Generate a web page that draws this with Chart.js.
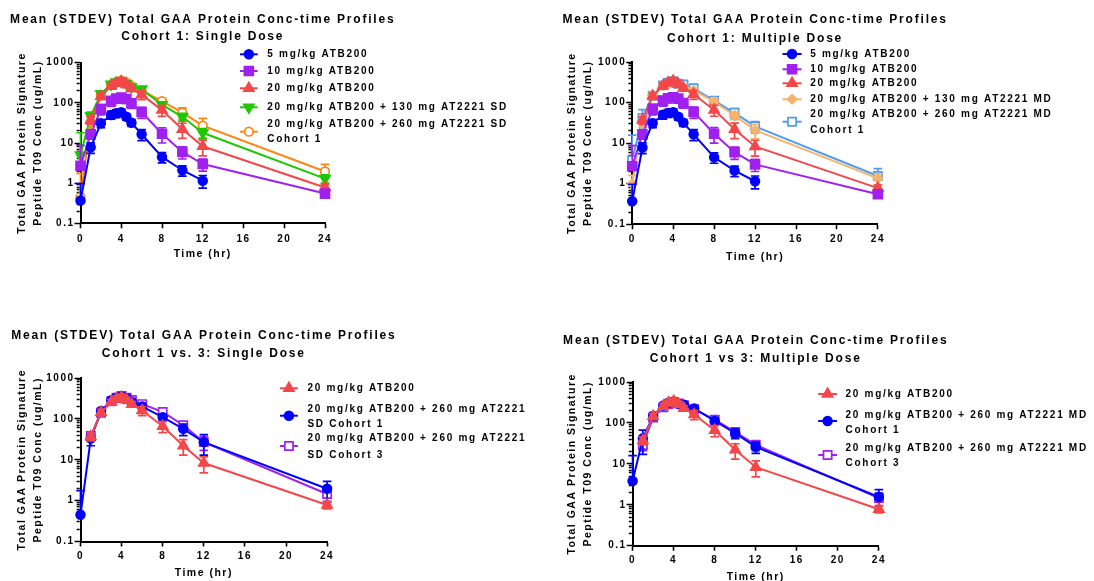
<!DOCTYPE html>
<html>
<head>
<meta charset="utf-8">
<script src="https://cdn.jsdelivr.net/npm/chart.js@4.4.1/dist/chart.umd.min.js"></script>
<style>
  html, body { margin: 0; padding: 0; background: #ffffff; }
  body { width: 1094px; height: 581px; position: relative; overflow: hidden; }
  canvas { position: absolute; }
</style>
</head>
<body>
<canvas id="c1" width="547" height="290" style="left:0;top:0"></canvas>
<canvas id="c2" width="547" height="290" style="left:547px;top:0"></canvas>
<canvas id="c3" width="547" height="291" style="left:0;top:290px"></canvas>
<canvas id="c4" width="547" height="291" style="left:547px;top:290px"></canvas>
<script>
// Sampling times (hr)
const hours = [0, 1, 2, 3, 3.5, 4, 4.5, 5, 6, 8, 10, 12, 24];

// Labelled decades on the concentration axis
const yDecades = [0.1, 1, 10, 100, 1000];
const xTickStep = 4;

// Mean and SD concentrations (ug/mL)
const atb5      = [0.37, 7.8, 31, 50, 55, 58, 45, 32, 16.5, 4.5, 2.1, 1.15, null];
const atb5Sd    = [0.6, 2.3, 7, 11, 12, 12, 8, 6, 5, 1.3, 0.6, 0.4, null];
const atb10     = [2.7, 16.5, 70, 112, 128, 135, 125, 98, 59, 17, 6.0, 3.0, 0.55];
const atb10Sd   = [6, 4, 20, 30, 30, 30, 28, 25, 18, 7, 2, 1, 0.1];
const atb20     = [null, 37, 145, 258, 310, 340, 288, 228, 160, 66, 22, 8.3, 0.78];
const atb20Sd   = [null, 8, 25, 40, 50, 60, 50, 35, 40, 20, 9, 3.5, 0.15];
const sd130     = [5, 47, 168, 290, 330, 358, 305, 248, 220, 90, 45, 18, 1.3];
const sd130Sd   = [13, 12, 25, 40, 45, 50, 40, 35, 25, 15, 10, 5, 0.3];
const sd260C1   = [0.45, 33, 155, 285, 330, 355, 320, 260, 200, 110, 57, 27, 1.95];
const sd260C1Sd = [1.3, 11, 25, 40, 45, 50, 45, 40, 35, 20, 18, 14, 1.0];
const sd260C3   = [null, 38, 140, 270, 330, 365, 330, 290, 230, 148, 70, 27, 1.45];
const sd260C3Sd = [null, 8, 20, 40, 40, 40, 40, 35, 30, 20, 12, 10, 0.5];
const md130     = [1.0, 35, 150, 260, 300, 320, 290, 240, 200, 105, 48, 21, 1.35];
const md130Sd   = [0.6, 10, 30, 40, 40, 45, 40, 35, 30, 20, 10, 8, 0.4];
const md260C1   = [3.8, 42, 148, 265, 310, 335, 290, 280, 225, 112, 56, 26, 1.55];
const md260C1Sd = [12, 25, 30, 40, 45, 45, 40, 35, 30, 22, 15, 8, 0.8];
const md260C3   = [null, 29, 135, 240, 290, 320, 300, 270, 215, 120, 60, 29, 1.45];
const md260C3Sd = [null, 8, 25, 30, 35, 40, 35, 30, 25, 20, 15, 8, 0.5];

const FONT = "'Liberation Sans', Arial, sans-serif";

// Marker / line looks
const STYLES = {
  blue:    { color: '#0000ff', fill: '#0000ff', pointStyle: 'circle',   radius: 4.4 },
  purple:  { color: '#a020f0', fill: '#a020f0', pointStyle: 'rect',     radius: 6.3 },
  red:     { color: '#f4474a', fill: '#f4474a', pointStyle: 'triangle', radius: 5.8 },
  green:   { color: '#1ec800', fill: '#1ec800', pointStyle: 'triangle', radius: 5.8, rotation: 180 },
  orange:  { color: '#ff8410', fill: '#ffffff', pointStyle: 'circle',   radius: 4.3 },
  sand:    { color: '#f5b36d', fill: '#f5b36d', pointStyle: 'rectRot',  radius: 4.6 },
  sky:     { color: '#4f9cf0', fill: '#ffffff', pointStyle: 'rect',     radius: 5.8 },
  purpleO: { color: '#a020f0', fill: '#ffffff', pointStyle: 'rect',     radius: 5.8 }
};

function series(lines, values, sd, look) {
  const s = STYLES[look];
  return {
    label: lines.join(' '),
    legendLines: lines,
    data: hours.map((h, i) => ({ x: h, y: values[i] })),
    sd: sd,
    borderColor: s.color,
    backgroundColor: s.fill,
    pointBackgroundColor: s.fill,
    pointBorderColor: s.color,
    pointStyle: s.pointStyle,
    pointRadius: s.radius,
    pointHoverRadius: s.radius,
    pointRotation: s.rotation || 0,
    pointBorderWidth: 1.7,
    borderWidth: 2,
    tension: 0,
    clip: false
  };
}

// Tick positions for the log axis: 1..9 in each decade
const yTickValues = [];
for (let e = -1; e <= 2; e++) {
  for (let k = 1; k <= 9; k++) yTickValues.push(Number((k * Math.pow(10, e)).toPrecision(4)));
}
yTickValues.push(1000);
const isDecade = v => yDecades.some(d => Math.abs(d - v) < 1e-9);

// Mean +/- SD whiskers, drawn under each series' own line and markers
const errorBars = {
  id: 'errorBars',
  beforeDatasetDraw(chart, args) {
    const ds = chart.data.datasets[args.index];
    if (!ds.sd) return;
    const yScale = chart.scales.y;
    const ctx = chart.ctx;
    ctx.save();
    ctx.strokeStyle = ds.borderColor;
    ctx.lineWidth = 1.7;
    const cap = 4.3;
    args.meta.data.forEach((pt, i) => {
      const v = ds.data[i].y, s = ds.sd[i];
      if (v == null || s == null || pt.skip) return;
      const x = pt.x;
      const yHi = yScale.getPixelForValue(v + s);
      const yMid = yScale.getPixelForValue(v);
      ctx.beginPath();
      ctx.moveTo(x, yMid); ctx.lineTo(x, yHi);
      ctx.moveTo(x - cap, yHi); ctx.lineTo(x + cap, yHi);
      if (v - s > 0) {
        const yLo = yScale.getPixelForValue(v - s);
        ctx.moveTo(x, yMid); ctx.lineTo(x, yLo);
        ctx.moveTo(x - cap, yLo); ctx.lineTo(x + cap, yLo);
      }
      ctx.stroke();
    });
    ctx.restore();
  }
};

// Wide glyph spacing for the axis text
const textSpacing = {
  id: 'textSpacing',
  beforeUpdate(chart) { chart.ctx.letterSpacing = '1.5px'; },
  beforeDraw(chart) { chart.ctx.letterSpacing = '1.5px'; }
};

// Two-line heading and the key beside the plot
const panelText = {
  id: 'panelText',
  afterDraw(chart, args, opts) {
    const { ctx, chartArea } = chart;
    ctx.save();
    ctx.fillStyle = '#000';
    ctx.textBaseline = 'middle';
    ctx.textAlign = 'center';
    ctx.letterSpacing = '1.8px';
    ctx.font = `bold 12px ${FONT}`;
    const cx = (chartArea.left + chartArea.right) / 2;
    opts.title.forEach((t, i) => ctx.fillText(t, cx, opts.titleY[i]));

    const lg = opts.legend;
    const xm = (lg.x0 + lg.x1) / 2;
    chart.data.datasets.forEach((ds, i) => {
      const row = lg.rows[i];
      ctx.strokeStyle = ds.borderColor;
      ctx.lineWidth = ds.borderWidth;
      ctx.beginPath();
      ctx.moveTo(lg.x0, row.m); ctx.lineTo(lg.x1, row.m);
      ctx.stroke();
      ctx.fillStyle = ds.pointBackgroundColor;
      ctx.strokeStyle = ds.pointBorderColor;
      ctx.lineWidth = ds.pointBorderWidth;
      Chart.helpers.drawPoint(ctx, {
        pointStyle: ds.pointStyle, radius: ds.pointRadius,
        rotation: ds.pointRotation, borderWidth: ds.pointBorderWidth
      }, xm, row.m);
      ctx.fillStyle = '#000';
      ctx.textAlign = 'left';
      ctx.letterSpacing = '1.7px';
      ctx.font = `bold 10px ${FONT}`;
      ds.legendLines.forEach((t, j) => ctx.fillText(t, lg.tx, row.t[j]));
    });
    ctx.restore();
  }
};

const TITLE1 = 'Mean (STDEV) Total GAA Protein Conc-time Profiles';
const Y_TITLE = ['Total GAA Protein Signature', 'Peptide T09 Conc (ug/mL)'];

const panels = [
  {
    id: 'c1', W: 547, H: 290,
    box: { l: 80.5, r: 325, t: 62.7, b: 223.3 },
    yTitleX: 21.7, xLabGap: 15.7, xTitleGap: 30.7,
    title: [TITLE1, 'Cohort 1: Single Dose'], titleY: [20, 36.7],
    legend: { x0: 240, x1: 257.7, tx: 267.3, rows: [
      { m: 54.3, t: [54.3] }, { m: 71, t: [71] }, { m: 88.3, t: [88.3] },
      { m: 107.3, t: [107.3] }, { m: 131.7, t: [124, 139.3] } ] },
    sets: [
      series(['5 mg/kg ATB200'], atb5, atb5Sd, 'blue'),
      series(['10 mg/kg ATB200'], atb10, atb10Sd, 'purple'),
      series(['20 mg/kg ATB200'], atb20, atb20Sd, 'red'),
      series(['20 mg/kg ATB200 + 130 mg AT2221 SD'], sd130, sd130Sd, 'green'),
      series(['20 mg/kg ATB200 + 260 mg AT2221 SD', 'Cohort 1'], sd260C1, sd260C1Sd, 'orange')
    ]
  },
  {
    id: 'c2', W: 547, H: 290,
    box: { l: 85.2, r: 330.9, t: 62, b: 224.3 },
    yTitleX: 24.9, xLabGap: 15, xTitleGap: 32.4,
    title: [TITLE1, 'Cohort 1: Multiple Dose'], titleY: [20, 38.3],
    legend: { x0: 235.5, x1: 254.6, tx: 263.2, rows: [
      { m: 54, t: [54] }, { m: 69.3, t: [69.3] }, { m: 83.3, t: [83.3] },
      { m: 99.3, t: [99.3] }, { m: 121.7, t: [114.3, 130] } ] },
    sets: [
      series(['5 mg/kg ATB200'], atb5, atb5Sd, 'blue'),
      series(['10 mg/kg ATB200'], atb10, atb10Sd, 'purple'),
      series(['20 mg/kg ATB200'], atb20, atb20Sd, 'red'),
      series(['20 mg/kg ATB200 + 130 mg AT2221 MD'], md130, md130Sd, 'sand'),
      series(['20 mg/kg ATB200 + 260 mg AT2221 MD', 'Cohort 1'], md260C1, md260C1Sd, 'sky')
    ]
  },
  {
    id: 'c3', W: 547, H: 291,
    box: { l: 80.5, r: 327.1, t: 88, b: 251.5 },
    yTitleX: 21.7, xLabGap: 15.2, xTitleGap: 31.2,
    title: [TITLE1, 'Cohort 1 vs. 3: Single Dose'], titleY: [46, 63.3],
    legend: { x0: 280, x1: 297.9, tx: 307.5, rows: [
      { m: 98.3, t: [98.3] }, { m: 125.7, t: [119.3, 134.3] }, { m: 156, t: [148.3, 165] } ] },
    sets: [
      series(['20 mg/kg ATB200'], atb20, atb20Sd, 'red'),
      series(['20 mg/kg ATB200 + 260 mg AT2221', 'SD Cohort 1'], sd260C1, sd260C1Sd, 'blue'),
      series(['20 mg/kg ATB200 + 260 mg AT2221', 'SD Cohort 3'], sd260C3, sd260C3Sd, 'purpleO')
    ]
  },
  {
    id: 'c4', W: 547, H: 291,
    box: { l: 85.6, r: 331.9, t: 92, b: 255.7 },
    yTitleX: 24.9, xLabGap: 14.3, xTitleGap: 31,
    title: [TITLE1, 'Cohort 1 vs 3: Multiple Dose'], titleY: [50.7, 69],
    legend: { x0: 271.2, x1: 290, tx: 298.6, rows: [
      { m: 104, t: [104] }, { m: 131, t: [125, 140] }, { m: 165, t: [158.3, 173.3] } ] },
    sets: [
      series(['20 mg/kg ATB200'], atb20, atb20Sd, 'red'),
      series(['20 mg/kg ATB200 + 260 mg AT2221 MD', 'Cohort 1'], md260C1, md260C1Sd, 'blue'),
      series(['20 mg/kg ATB200 + 260 mg AT2221 MD', 'Cohort 3'], md260C3, md260C3Sd, 'purpleO')
    ]
  }
];

const TICK_FONT = { family: FONT, size: 10, weight: 'bold' };
const AXIS_TITLE_FONT = { family: FONT, size: 10.5, weight: 'bold' };

panels.forEach(p => {
  const xh = p.xTitleGap + 6.3;
  new Chart(document.getElementById(p.id), {
    type: 'line',
    data: { datasets: p.sets },
    plugins: [textSpacing, errorBars, panelText],
    options: {
      responsive: false,
      animation: false,
      events: [],
      layout: { padding: { left: 0, top: p.box.t, right: p.W - p.box.r, bottom: p.H - p.box.b - xh } },
      plugins: {
        legend: { display: false },
        tooltip: { enabled: false },
        panelText: { title: p.title, titleY: p.titleY, legend: p.legend }
      },
      scales: {
        x: {
          type: 'linear', min: 0, max: 24, position: 'bottom',
          afterFit(s) { s.height = xh; },
          ticks: { stepSize: xTickStep, color: '#000', font: TICK_FONT, padding: p.xLabGap - 11, maxRotation: 0 },
          grid: { drawOnChartArea: false, tickLength: 5, tickWidth: 1.6, tickColor: '#000' },
          border: { display: true, color: '#000', width: 2 },
          title: { display: true, text: 'Time (hr)', color: '#000', font: AXIS_TITLE_FONT, padding: { top: 0, bottom: 0 } }
        },
        y: {
          type: 'logarithmic', min: 0.1, max: 1000, position: 'left',
          afterFit(s) { s.width = p.box.l; },
          afterBuildTicks(s) { s.ticks = yTickValues.map(v => ({ value: v })); },
          ticks: {
            autoSkip: false, color: '#000', font: TICK_FONT, padding: 0,
            callback: v => (isDecade(v) ? String(v) : '')
          },
          grid: {
            drawOnChartArea: false, tickLength: 6, tickWidth: 1.5, tickColor: '#000',
            tickBorderDash: c => (c.tick && isDecade(c.tick.value) ? [] : [0, 2.2, 3, 60])
          },
          border: { display: true, color: '#000', width: 2 },
          title: {
            display: true, text: Y_TITLE, color: '#000',
            font: Object.assign({ lineHeight: '16.2px' }, AXIS_TITLE_FONT),
            padding: { top: p.yTitleX - 8.1, bottom: 0 }
          }
        }
      }
    }
  });
});
</script>
</body>
</html>
